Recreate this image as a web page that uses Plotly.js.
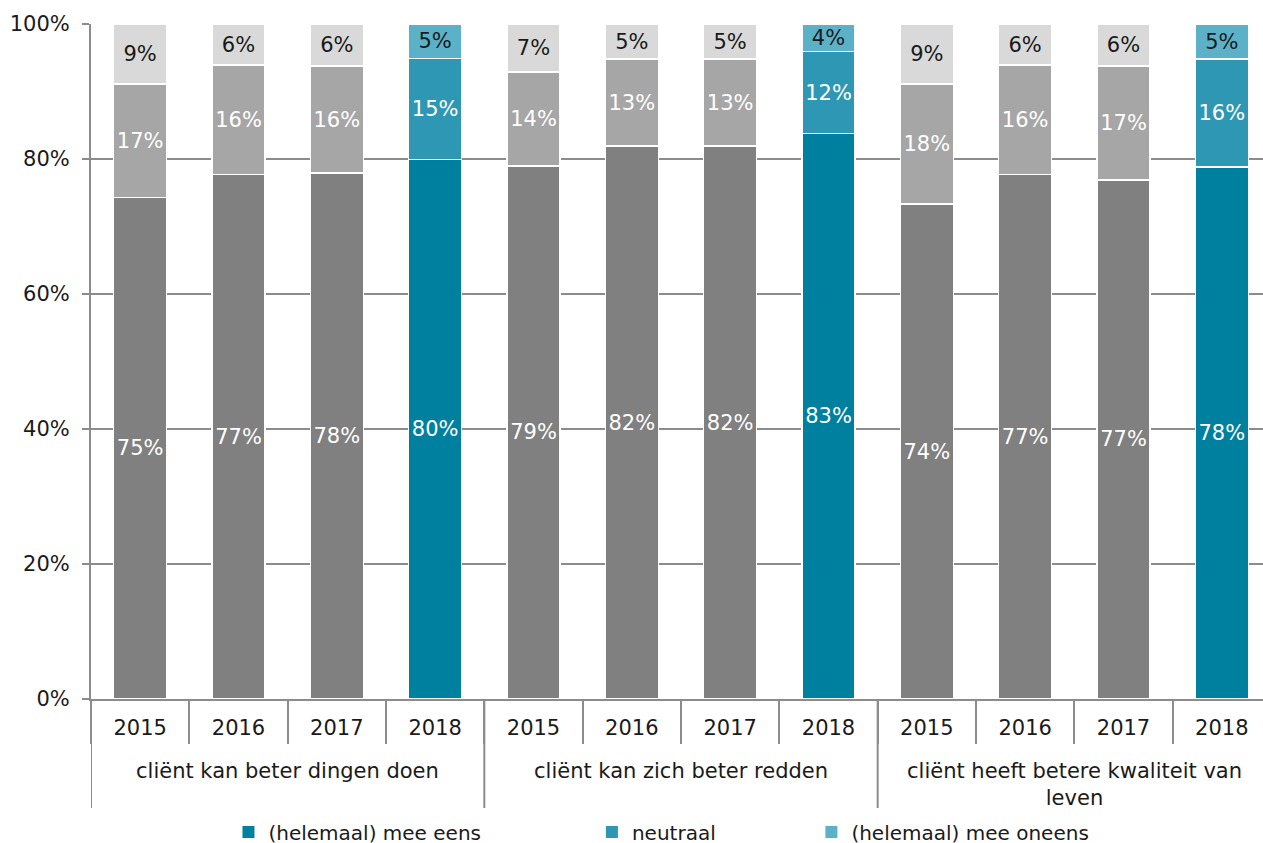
<!DOCTYPE html>
<html>
<head>
<meta charset="utf-8">
<script src="https://cdn.plot.ly/plotly-3.0.1.min.js"></script>
<style>
html,body{margin:0;padding:0;overflow:hidden;background:#fff;}
#chart{width:1290px;height:870px;}
</style>
</head>
<body>
<div id="chart"></div>
<script>
// ---- data ----
var groups = ["cliënt kan beter dingen doen", "cliënt kan zich beter redden", "cliënt heeft betere kwaliteit van<br>leven"];
var years = ["2015", "2016", "2017", "2018"];
var seriesNames = ["(helemaal) mee eens", "neutraal", "(helemaal) mee oneens"];

// bar heights (%), order: group1 2015..2018, group2 2015..2018, group3 2015..2018
var eens    = [74.3, 77.7, 77.9, 79.9, 79.0, 81.9, 81.9, 83.8, 73.3, 77.7, 76.9, 78.8];
var neutraal = [16.8, 16.2, 15.9, 15.0, 13.9, 12.9, 12.9, 12.1, 17.8, 16.2, 16.9, 16.0];
var oneens  = [8.9, 6.1, 6.2, 5.1, 7.1, 5.2, 5.2, 4.1, 8.9, 6.1, 6.2, 5.2];

// printed labels
var eensLabels    = ["75%", "77%", "78%", "80%", "79%", "82%", "82%", "83%", "74%", "77%", "77%", "78%"];
var neutraalLabels = ["17%", "16%", "16%", "15%", "14%", "13%", "13%", "12%", "18%", "16%", "17%", "16%"];
var oneensLabels  = ["9%", "6%", "6%", "5%", "7%", "5%", "5%", "4%", "9%", "6%", "6%", "5%"];

// ---- styling ----
var grayColors = ["#808080", "#a6a6a6", "#d9d9d9"];
var tealColors = ["#00809f", "#2e98b4", "#5bb1c8"];
var textColors = ["#ffffff", "#ffffff", "#1a1a1a"];
var FONT = "DejaVu Sans, Verdana, sans-serif";
var axisGray = "#8c8c8c";

// category positions (index along the axis) and their labels
var xPos = [], xYear = [];
groups.forEach(function (g, gi) {
  years.forEach(function (y, yi) { xPos.push(gi * years.length + yi); xYear.push(y); });
});
var nCat = xPos.length;

var values = [eens, neutraal, oneens];
var labels = [eensLabels, neutraalLabels, oneensLabels];

var traces = [];
values.forEach(function (vals, s) {
  var colors = xYear.map(function (y) { return y === "2018" ? tealColors[s] : grayColors[s]; });
  traces.push({
    type: "bar",
    x: xPos,
    y: vals,
    name: seriesNames[s],
    showlegend: false,
    text: labels[s],
    texttemplate: "%{text}",
    textposition: "inside",
    insidetextanchor: "middle",
    textangle: 0,
    textfont: { family: FONT, size: 21, color: textColors[s] },
    marker: { color: colors, line: { color: "#ffffff", width: 1.5 } },
    hoverinfo: "skip"
  });
});
// legend entries (teal colours)
var legendIds = ["legend", "legend2", "legend3"];
seriesNames.forEach(function (n, s) {
  traces.push({
    type: "bar",
    x: [null],
    y: [null],
    name: n,
    legend: legendIds[s],
    showlegend: true,
    marker: { color: tealColors[s], line: { width: 0 } },
    hoverinfo: "skip"
  });
});

var legendBase = {
  orientation: "h",
  yanchor: "middle",
  y: -0.197,
  xanchor: "left",
  font: { family: FONT, size: 20, color: "#1a1a1a" },
  bgcolor: "rgba(0,0,0,0)",
  borderwidth: 0
};
function lg(x) { var o = JSON.parse(JSON.stringify(legendBase)); o.x = x; return o; }

// boundaries between categories (minor ticks) and group dividers
var boundaries = [];
for (var b = 0; b <= nCat; b++) boundaries.push(b - 0.5);

var shapes = [];
groups.forEach(function (g, gi) {
  shapes.push({
    type: "line", xref: "x", yref: "paper",
    x0: gi * years.length - 0.5, x1: gi * years.length - 0.5,
    y0: 0, y1: -0.1615,
    line: { color: axisGray, width: 2 }
  });
});
shapes.push({
  type: "line", xref: "x", yref: "paper",
  x0: nCat - 0.5, x1: nCat - 0.5, y0: 0, y1: -0.1615,
  line: { color: axisGray, width: 2 }
});

var annotations = groups.map(function (g, gi) {
  return {
    text: g,
    xref: "x", yref: "paper",
    x: gi * years.length + (years.length - 1) / 2,
    y: -0.086,
    xanchor: "center", yanchor: "top",
    showarrow: false,
    align: "center",
    font: { family: FONT, size: 21, color: "#1a1a1a" }
  };
});

var layout = {
  width: 1290,
  height: 870,
  margin: { l: 91, r: 19, t: 24, b: 171 },
  paper_bgcolor: "#ffffff",
  plot_bgcolor: "#ffffff",
  barmode: "stack",
  bargap: 0.46,
  font: { family: FONT, size: 21, color: "#1a1a1a" },
  uniformtext: { mode: "show", minsize: 21 },
  xaxis: {
    type: "linear",
    range: [-0.5, nCat - 0.5],
    tickmode: "array",
    tickvals: xPos,
    ticktext: xYear,
    ticks: "",
    showline: true,
    linecolor: axisGray,
    linewidth: 2,
    ticklabelstandoff: 9,
    minor: {
      tickmode: "array",
      tickvals: boundaries,
      ticks: "outside",
      ticklen: 43,
      tickwidth: 2,
      tickcolor: axisGray,
      showgrid: false
    },
    showgrid: false,
    zeroline: false,
    tickfont: { family: FONT, size: 21, color: "#1a1a1a" }
  },
  yaxis: {
    range: [0, 100],
    dtick: 20,
    ticksuffix: "%",
    showline: true,
    linecolor: axisGray,
    linewidth: 2,
    ticks: "outside",
    ticklen: 7,
    tickwidth: 2,
    tickcolor: axisGray,
    ticklabelstandoff: 8,
    showgrid: true,
    gridcolor: axisGray,
    gridwidth: 2,
    zeroline: false,
    tickfont: { family: FONT, size: 21, color: "#1a1a1a" }
  },
  shapes: shapes,
  annotations: annotations,
  legend: lg(0.1165),
  legend2: lg(0.4245),
  legend3: lg(0.6105),
  showlegend: true
};

Plotly.newPlot("chart", traces, layout, { displayModeBar: false, staticPlot: true });
</script>
</body>
</html>
